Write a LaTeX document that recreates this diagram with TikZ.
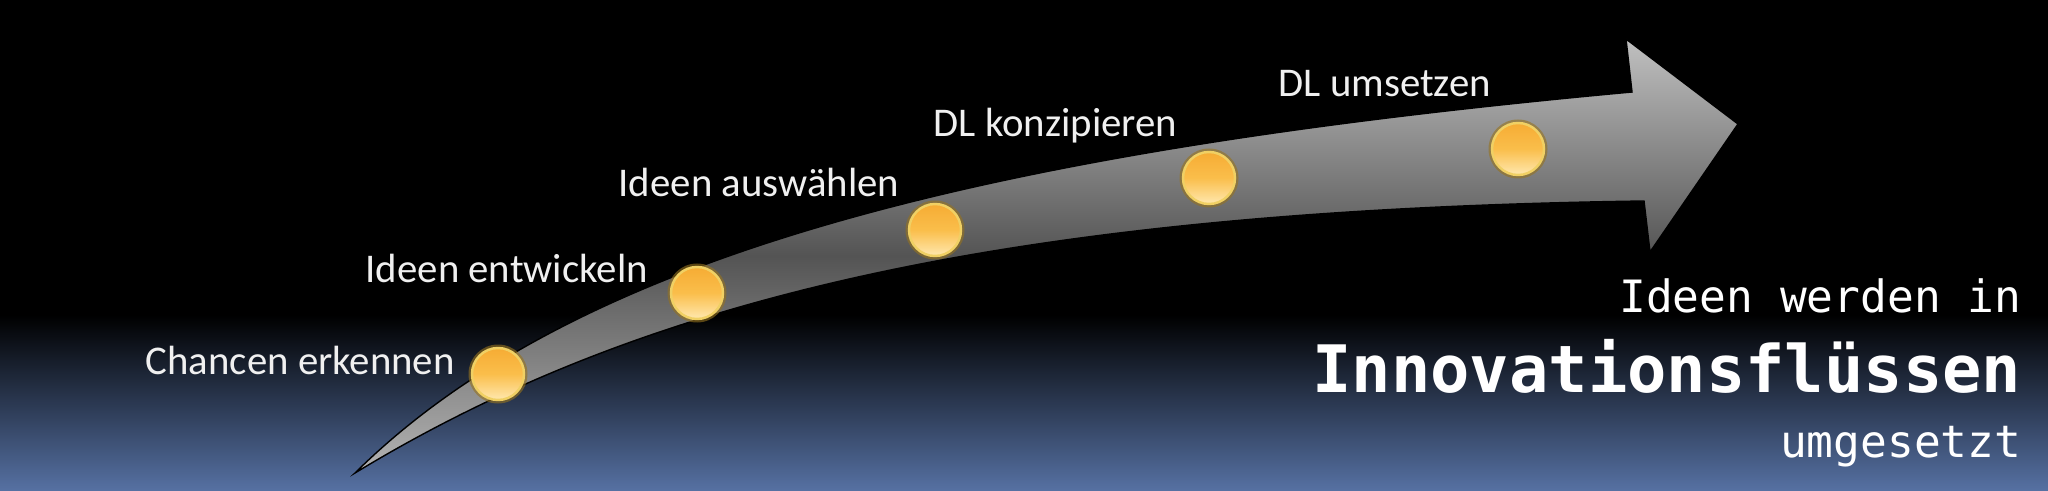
\documentclass[tikz,border=0pt]{standalone}
\usepackage{fontspec}
\setmainfont{Carlito}
\newfontfamily\monofont{DejaVu Sans Mono}
\definecolor{bgblue}{RGB}{86,113,163}
\definecolor{arrlight}{RGB}{192,192,192}
\definecolor{arrdark}{RGB}{84,84,84}
\definecolor{arrlow}{RGB}{180,180,180}
\definecolor{balltop}{RGB}{246,172,52}
\definecolor{ballmid}{RGB}{250,190,75}
\definecolor{ballbot}{RGB}{255,232,175}
\definecolor{ballrim}{RGB}{240,208,100}
\definecolor{ballglow}{RGB}{150,115,30}
\definecolor{labelwhite}{RGB}{240,240,240}
\tikzset{
  ball/.style={circle, minimum size=52*0.01cm, inner sep=0pt,
    top color=balltop, bottom color=ballbot, middle color=ballmid,
    draw=ballrim, line width=0.7pt},
  glow/.style={circle, minimum size=59*0.01cm, inner sep=0pt, fill=ballglow, opacity=0.6},
  steplabel/.style={font=\fontsize{11.6}{14}\selectfont, text=labelwhite, inner sep=0pt, anchor=base west},
  monotext/.style={font=\monofont\fontsize{12.66}{15}\selectfont, text=white, inner sep=0pt, anchor=base east},
  monobig/.style={font=\monofont\bfseries\fontsize{18.6}{22}\selectfont, text=white, inner sep=0pt, anchor=base east},
}
\begin{document}
\begin{tikzpicture}[x=0.01cm,y=-0.01cm]
\useasboundingbox (0,0) rectangle (2048,491);
% background
\fill[black] (0,0) rectangle (2048,491);
\shade[top color=black, bottom color=bgblue] (0,315) rectangle (2048,491);
% arrow
\shade[top color=arrlight, bottom color=arrlow, middle color=arrdark, draw=black, line width=0.4pt]
  (355,473) .. controls (580,250) and (1000,150) .. (1632,92)
  -- (1626,39) -- (1738,124) -- (1650,252) -- (1644,201)
  .. controls (1000,210) and (640,300) .. (355,473) -- cycle;
% balls
\foreach \n/\x/\y in {1/498/374, 2/697/293, 3/935/230, 4/1209/178, 5/1518/149}{
  \node[glow] (g\n) at (\x,\y) {};
  \node[ball] (b\n) at (\x,\y) {};
}
% labels
\node[steplabel] (l1) at (145,374) {Chancen erkennen};
\node[steplabel] (l2) at (365,282) {Ideen entwickeln};
\node[steplabel] (l3) at (618,197) {Ideen auswählen};
\node[steplabel] (l4) at (933,137) {DL konzipieren};
\node[steplabel] (l5) at (1278,97) {DL umsetzen};
% right text
\node[monotext] (r1) at (2022,312) {Ideen werden in};
\node[monobig] (r2) at (2022,393) {Innovationsflüssen};
\node[monotext] (r3) at (2022,457) {umgesetzt};
\end{tikzpicture}
\end{document}
